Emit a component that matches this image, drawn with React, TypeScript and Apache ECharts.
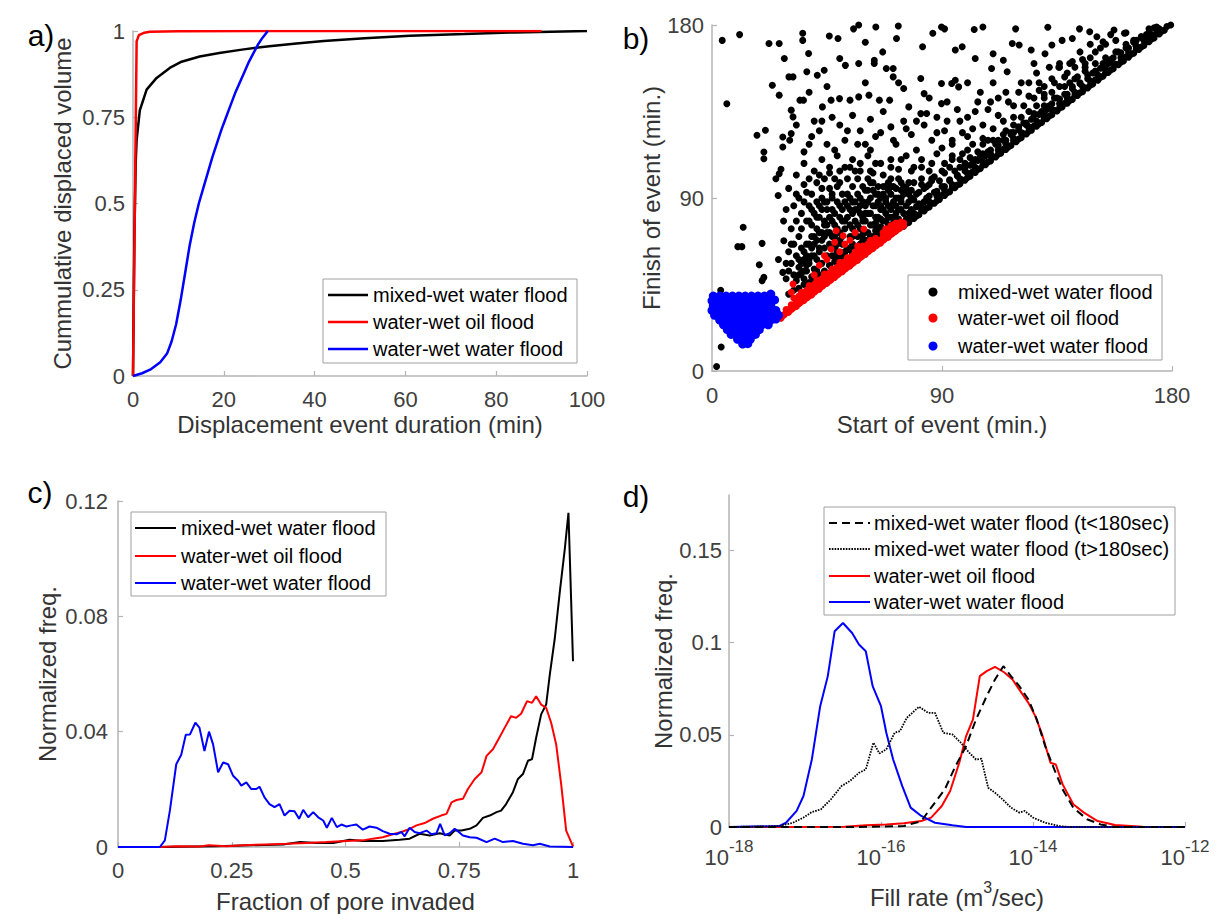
import React, { useEffect, useRef } from 'react';
import * as echarts from 'echarts';

const FONT = '"Liberation Sans", Arial, Helvetica, sans-serif';

// ---------- shared names ----------
const seriesNames = ['mixed-wet water flood', 'water-wet oil flood', 'water-wet water flood'];
const seriesNamesD = [
  'mixed-wet water flood (t<180sec)',
  'mixed-wet water flood (t>180sec)',
  'water-wet oil flood',
  'water-wet water flood',
];

// ---------- panel a: cumulative displaced volume vs event duration ----------
const aMixedWater = [[0,0],[0.3,0.4],[0.6,0.62],[0.8,0.684],[1.5,0.77],[3,0.83],[5.2,0.864],[8.1,0.893],[10.7,0.911],[14.7,0.926],[19,0.936],[24,0.946],[30,0.956],[36,0.964],[42,0.971],[51,0.979],[61,0.986],[73,0.991],[84,0.996],[92,0.998],[100,1.0]];
const aOilFlood = [[0,0],[0.8,0.97],[1.3,0.988],[2.5,0.995],[3.7,0.998],[10,0.9995],[30,1],[90,1]];
const aWaterFlood = [[0,0],[2,0.008],[4,0.02],[6,0.04],[7.5,0.065],[8.5,0.1],[9.5,0.15],[10.5,0.22],[11.5,0.3],[12.5,0.38],[13.5,0.445],[14.5,0.5],[15.5,0.545],[16.5,0.59],[17.5,0.635],[18.5,0.675],[19.5,0.715],[20.5,0.75],[21.5,0.785],[22.5,0.82],[23.5,0.85],[24.5,0.88],[25.5,0.91],[26.5,0.935],[27.5,0.96],[28.5,0.98],[29.7,1.0]];

// ---------- panel b: start vs finish of event (min.) ----------
const bMixedWater = [
  [1.8,2.3],[3.6,12.5],[3.4,42],[4,172],[5.8,139],[10.8,175],[10.1,64.7],[11.7,64.7],[12.2,74.8],[17.6,122.6],[18.5,55.3],[19.6,66.4],[19.6,47],[20.3,48.7],[20.9,125.2],[20.3,113.9],[20.3,110.4],[22.3,170.4],[23.6,148.7],[26.3,170.4],[26.3,143.5],[25.9,91.3],[26.3,102.6],[27.7,121.7],[27.7,116.5],[28.3,162.6],[28.1,67.8],[27.7,51.3],
  [30.1,153],[31.7,153],[31,135.7],[31.7,132.2],[30.4,120],[31,123.5],[34.4,140.9],[35.8,140.9],[35.5,175.7],[35.5,172],[37.1,155.7],[37.8,165.2],[41.2,153.9],[43.9,156.5],[45.9,174.3],[49.3,173],[50,162.6],[52.2,159],[55.4,178],[57.4,180],[57.4,160],[60,171],[63.5,160],[63.5,161.7],[64.1,179],[66.8,166],[68.2,157.4],[70.9,157.4],[70.9,153],[72.2,173],[72.9,179.5],[75,147],[81.7,152.2],[82.4,168.7],[83,144.3],[86.4,175.7],[89.8,179],[89.8,149.6],[91,178],[93.8,149.6],[95.2,151.3],[95.2,167],[96.5,147.8],[97.9,168.7],[102.6,177.7],[103,162.6],[106,179],[109.4,157.4],[110,165],[114,161.7],[115.5,155.7],[117.5,170.4],[118.8,178],[120.2,169.6],[124.9,167],[130.3,165],[131.4,178.8],[133,169.6],[135.7,158],[137,172],[141,173],[141,161],[143.8,178],[145,162],[147.8,176.5],[150.6,173.9],[153,171.3],[157.3,177.4],[161.4,175.7],
  [43.2,137.4],[46.6,140.9],[49.9,141.7],[54,140.9],[57.4,142.6],[61.4,143.5],[65.5,140.9],[69.5,140.9],[77,137.4],[81.7,133.9],[89.8,139.1],
  [33,128],[38,118],[40,130],[42,125],[45,118],[47,132],[50,128],[52,120],[55,133],[58,125],[60,118],[62,131],[64,122],[67,135],[70,127],[72,118],[75,130],[78,123],[80,115],[83,128],[86,120],[88,132],[91,125],[94,118],[97,130],[100,122],[103,135],[106,128],[109,140],[112,133],[115,145],[118,138],[121,150],[124,143],[127,155],[130,148],[133,152],[136,160],[139,155],[126,160],[105,145],[100,150],[110,150],[92,140],[85,142],[73,150],[60,150],[45,148],[38,145],
  [25,100],[27,105],[33,102],[36,108],[40,104],[43,110],[46,103],[49,112],[52,106],[55,110],[58,104],[61,112],[64,108],[67,102],[70,110],[73,105],[76,112],[79,106],[82,110],[85,104],[88,113],[91,108],[94,112],[97,106],[100,115],[103,110],[106,118],[109,113],[112,120],[115,125],[118,128],[121,132],[124,135],[127,138],[130,142],[133,145],[136,148],[140,150],[143,153],[146,156],[150,160],[154,163],[158,166],[162,170],[166,172],[170,175],[174,178],
  [29,84],[30,95],[33,92],[36,97],[38,86],[28,78],[31,66],[26,58],[29,56],
  [29,48],[30,52],[31,56],[32,50],[33,60],[34,54],[30,62],[32,66],[34,70],[31,74],[33,78],[35,82],[32,86],[34,90],[36,58],[35,64],
  [36,48],[37,52],[38,56],[39,60],[40,53],[41,58],[42,62],[37,66],[39,70],[41,74],[43,68],[38,78],[40,82],[42,86],[44,78],[36,88],[39,92],[43,95],[44,64],[45,72],[41,98],[38,100],[44,88],[40,66],[42,80],
  [46,55],[47,60],[48,64],[49,58],[50,68],[46,72],[48,76],[50,80],[52,74],[54,70],[47,84],[49,88],[51,92],[53,86],[55,82],[46,95],[50,98],[53,100],[52,62],[55,66],[48,70],[51,78],[54,90],[47,90],[55,96],
  [56,64],[57,70],[58,74],[59,68],[60,78],[61,72],[62,82],[63,76],[64,86],[56,84],[58,90],[60,94],[62,98],[64,92],[57,100],[59,80],[61,88],[63,70],[65,74],[65,96],
  [66,72],[67,78],[68,82],[69,76],[70,86],[71,80],[72,90],[73,84],[74,94],[66,90],[68,96],[70,100],[72,78],[74,88],[75,82],[66,84],
  [33,47],[35,51],[37,55],[39,49],[41,52],[43,56],[45,60],[47,53],[49,62],[51,66],[53,58],[55,61],[57,63],[59,71],[61,66],[63,69],[65,71],[67,73],[69,80],[71,77],[73,79],[34,58],[36,62],[38,66],[40,70],[42,72],[44,76],[46,80],[48,82],[50,86],[52,88],[54,84],[56,78],[58,82],[60,86],[62,90],[64,80],[66,79],[68,88],[70,92],[72,95],[74,98],[35,74],[37,78],[39,84],[41,88],[43,90],[45,84],[47,78],[49,74],[51,70],[53,80],[55,74],[57,92],[59,96],[61,100],[63,94],[65,88],[67,92],[69,94],[37,93],[42,102],[48,100],[56,104],[63,103],[70,96],
  [62,70],[64,73],[66,75],[68,78],[70,80],[72,82],[74,84],[60,68],[58,66],[56,64],[54,63],[52,62],[50,59],[48,57],[46,55],[44,52],[42,50],[40,48],[38,46],[36,45],[34,43],[32,42],[30,40],
  [35,56],[37,60],[39,64],[41,68],[43,72],[45,76],[47,70],[49,66],[51,60],[53,64],[55,70],[57,76],[59,78],[61,82],[63,86],[65,80],[67,84],[69,86],[71,88],[73,90],[75,92],[44,70],[46,66],[48,60],[50,72],[52,78],[54,76],[56,88],[58,86],[60,82],[62,76],[64,77],[66,86],[68,90],[70,84],[72,86],[74,90],[40,60],[42,64],[38,58],[36,52],[34,50],[39,76],[41,80],[43,84],[45,88],[47,92],[49,96],[51,84],[53,92],[55,88],[57,84],[59,88],[61,94],[63,98],[65,92],[67,96],[69,98],[71,96],[73,100],[75,96],[77,98],[78,94],[76,86],[77,92],[79,89],[81,93],[83,95],[85,97],[87,101],[89,99],[91,103],[93,106],[95,104],[97,110],[99,108],[101,111],[104,114],[106,113],[108,120],
  [44,100],[46,106],[50,104],[54,106],[58,108],[62,104],[66,108],[70,106],[74,110],[78,104],[82,106],[86,108],[90,116],[94,120],[98,124],[102,126],[36,114],[39,122],[43,130],[48,115],[53,125],[57,118],[62,115],[66,124],[71,120],[76,126],[80,130],[84,134],[88,124],[92,130],[96,136],[100,132],[104,140],[108,136],[112,142],[116,140],[120,145],[124,150],[128,146],[132,158],[140,160],[144,166],[148,163],[152,168],[110,120],[114,123],[118,124],[122,129],[126,134],[130,138],[134,142],[138,148],[142,152],[146,158],
  [76,76.8],[78,79.4],[80,80.7],[82,83.5],[84,84.8],[86,87.3],[88,88.6],[90,91.4],[92,92.7],[94,95.6],[96,96.8],[98,99.3],[100,100.7],[102,103.6],[104,104.8],[106,107.2],[108,108.7],[110,111.5],[112,112.8],[114,115.3],[116,116.6],[118,119.6],[120,120.7],[122,123.4],[124,124.8],[126,127.5],[128,128.6],[130,131.4],[132,132.7],[134,135.6],[136,136.8],[138,139.3],[140,140.7],[142,143.5],[144,144.8],[146,147.2],[148,148.7],[150,151.5],[152,152.8],[154,155.3],[156,156.6],[158,159.6],[160,160.7],[162,163.4],[164,164.8],[166,167.5],[168,168.6],[170,171.4],[172,172.7],[174,175.6],[176,176.8],[178,179.2],[179.5,180],
  [75,75.3],[77,77.3],[79,79.3],[81,81.3],[83,83.3],[85,85.3],[87,87.3],[89,89.3],[91,91.3],[93,93.3],[95,95.3],[97,97.3],[99,99.3],[101,101.3],[103,103.3],[105,105.3],[107,107.3],[109,109.3],[111,111.3],[113,113.3],[115,115.3],[117,117.3],[119,119.3],[121,121.3],[123,123.3],[125,125.3],[127,127.3],[129,129.3],[131,131.3],[133,133.3],[135,135.3],[137,137.3],[139,139.3],[141,141.3],[143,143.3],[145,145.3],[147,147.3],[149,149.3],[151,151.3],[153,153.3],[155,155.3],[157,157.3],[159,159.3],[161,161.3],[163,163.3],[165,165.3],[167,167.3],[169,169.3],[171,171.3],[173,173.3],[175,175.3],[177,177.3],
  [76,79],[79,82],[82,85],[85,88],[88,91],[91,94],[94,97],[97,100],[100,103],[103,106],[106,109],[109,112],[112,115],[115,118],[118,121],[121,124],[124,127],[127,130],[130,133],[133,136],[136,139],[139,142],[142,145],[145,148],[148,151],[151,154],[154,157],[157,160],[160,163],[163,166],[166,169],[169,172],[172,175],[175,178],
  [78,84],[81,87],[84,90],[87,93],[90,96],[93,99.5],[96,102],[99,106],[102,108],[105,111.5],[108,114],[111,118],[114,120],[117,124],[120,127],[123,129],[126,133],[129,135],[132,138],[135,142],[138,144],[141,148],[144,150],[147,154],[150,156],[153,160],[156,162],[159,166],[162,168],[165,172],[168,174],[171,178],[174,179],
  [77,82],[80,85.5],[83,88],[85,91],[88,93.5],[91,96],[93,99],[96,101.5],[99,104],[101,107],[104,109.5],[107,112],[109,115],[112,117.5],[115,120],[117,123],[120,125.5],[123,128],[125,131],[128,133.5],[131,136],[133,139],[136,141.5],[139,144],[141,147],[144,149.5],[147,152],[149,155],[152,157.5],[155,160],[157,163],[160,165.5],[163,168],[165,171],[168,173.5],[171,176],[173,178.5],[166,169],[170,173],
  [78,90],[82,97],[86,100],[90,104],[94,110],[98,113],[102,118],[106,121],[110,126],[114,130],[118,132],[122,138],[126,142],[130,144],[134,150],[138,153],[142,158],[146,160],[150,166],[154,170],[158,172],[162,176],[148,170],[156,175],[136,158],[128,150],
  [76,95],[79,98],[82,100],[77,88],[84,96],[86,99],[80,92],
];
const bOilFlood = [
  [27,27.5],[28.5,29.6],[30,30.6],[31.5,32.5],[33,33.6],[34.5,35.5],[36,36.7],[37.5,38.4],[39,39.6],[40.5,41.5],[42,42.6],[43.5,44.5],[45,45.7],[46.5,47.4],[48,48.6],[49.5,50.5],[51,51.6],[52.5,53.5],[54,54.7],[55.5,56.4],[57,57.6],[58.5,59.5],[60,60.6],[61.5,62.5],[63,63.7],[64.5,65.4],[66,66.6],[67.5,68.5],[69,69.6],[70.5,71.4],[72,72.8],[73.5,74.3],[75,75.6],
  [28,29],[29.5,30.5],[31,32],[32.5,33.5],[34,35],[35.5,36.5],[37,38],[38.5,39.5],[40,41],[41.5,42.5],[43,44],[44.5,45.5],[46,47],[47.5,48.5],[49,50],[50.5,51.5],[52,53],[53.5,54.5],[55,56],[56.5,57.5],[58,59],[59.5,60.5],[61,62],[62.5,63.5],[64,65],[65.5,66.5],[67,68],[68.5,69.5],[70,71],[71.5,72.5],[73,74],[74.5,75.5],
  [30,32],[32,34],[34,36],[36,38],[38,40],[40,42],[42,44],[44,46],[46,48],[48,50],[50,52],[52,54],[54,56],[56,58],[58,60],[60,62],[62,64],[64,66],[66,68],[68,70],[70,72],[72,74],
  [29,32],[31,34.5],[33,36],[35,38.5],[37,40],[39,42.5],[41,44],[43,46.5],[45,48],[47,50.5],[49,52],[51,54.5],[53,56],[55,58.5],[57,60],[59,62.5],[61,64],[63,66],[65,68],[67,70],[69,72],[71,74],[73,76],
  [34,39],[37,42],[40,45],[43,48],[46,51],[49,54],[52,57],[55,60],[58,63],[61,66],[64,69],[67,72],[36,40.5],[39,44],[42,47],[45,50],[48,53],[51,56],
  [32,38],[35,41],[38,44.5],[41,47],[44,50.5],[47,53],[50,56.5],[53,59],[56,62],[59,65],[62,68],[70,75.5],[72,77],[68,74],[74,77.5],
  [71,76],[73,75],[74,76],[72,75.5],[75,77],
  [31.7,45.2],[31,41],[40,50],[42,55],[45,58],[46.6,63.5],[48,67],[48.6,73],[51.3,70.4],[52,66],[54,68],[56,72],[59.4,73.9],[50,62],[44,60],[57,65],
];
const bWaterFlood = [
  [0.5,39],[3,39],[5.5,39],[8,39],[10.5,39],[13,39],[15.5,39],[18,39],[20.5,39],[23,40],
  [0,36.5],[2.5,36.5],[5,36.5],[7.5,36.5],[10,36.5],[12.5,36.5],[15,36.5],[17.5,36.5],[20,36.5],[22,36.5],[24.5,37],
  [0.5,34],[3,34],[5.5,34],[8,34],[10.5,34],[13,34],[15.5,34],[18,34],[20.5,34],[23,34],
  [0,31.5],[2.5,31.5],[5,31.5],[7.5,31.5],[10,31.5],[12.5,31.5],[15,31.5],[17.5,31.5],[20,31.5],[22.5,31.5],[25,31.5],
  [1,29],[3.5,29],[6,29],[8.5,29],[11,29],[13.5,29],[16,29],[18.5,29],[21,29],[23.5,29],[26,29],
  [3,26.5],[5.5,26.5],[8,26.5],[10.5,26.5],[13,26.5],[15.5,26.5],[18,26.5],[20.5,26.5],[23,26.5],[25,27],
  [4.5,24],[7,24],[9.5,24],[12,24],[14.5,24],[17,24],[19.5,24],[22,24],
  [6,21.5],[8.5,21.5],[11,21.5],[13.5,21.5],[16,21.5],[18.5,21.5],
  [7.5,19],[10,19],[12.5,19],[15,19],[17,19],
  [10,16.5],[12.5,16.5],[15,16.5],
  [12,14],[14,14.2],
];

// ---------- panel c: fraction of pore invaded ----------
const cMixedWater = [[0,0],[0.09,0],[0.216,0.0003],[0.289,0.0006],[0.363,0.0009],[0.4,0.0017],[0.436,0.0014],[0.473,0.0014],[0.509,0.0025],[0.538,0.0021],[0.582,0.0021],[0.619,0.0025],[0.641,0.0029],[0.663,0.0046],[0.685,0.004],[0.707,0.0048],[0.729,0.004],[0.74,0.0057],[0.755,0.0057],[0.773,0.0063],[0.788,0.0075],[0.802,0.0101],[0.817,0.0109],[0.832,0.0121],[0.842,0.0126],[0.853,0.0149],[0.868,0.019],[0.879,0.0236],[0.89,0.0253],[0.901,0.0299],[0.91,0.0305],[0.919,0.0379],[0.93,0.046],[0.941,0.0494],[0.949,0.0598],[0.96,0.0724],[0.971,0.0885],[0.982,0.1034],[0.99,0.1159],[1.0,0.0644]];
const cOilFlood = [[0,0],[0.09,0],[0.128,0.0003],[0.18,0.0002],[0.2,0.0006],[0.238,0.0003],[0.275,0.0006],[0.326,0.0009],[0.37,0.0011],[0.414,0.0014],[0.458,0.0017],[0.502,0.0021],[0.538,0.0023],[0.56,0.0029],[0.582,0.0034],[0.604,0.0044],[0.623,0.0052],[0.641,0.0063],[0.656,0.0075],[0.674,0.0083],[0.692,0.0098],[0.71,0.0109],[0.722,0.0115],[0.733,0.0155],[0.744,0.0163],[0.758,0.0167],[0.769,0.0201],[0.784,0.0236],[0.799,0.0259],[0.81,0.0316],[0.824,0.0339],[0.835,0.037],[0.85,0.0414],[0.864,0.0454],[0.875,0.0448],[0.886,0.0462],[0.899,0.0506],[0.91,0.05],[0.919,0.0523],[0.93,0.0494],[0.941,0.0483],[0.952,0.0431],[0.963,0.0356],[0.974,0.0218],[0.985,0.0057],[1.0,0.0002]];
const cWaterFlood = [[0,0],[0.092,0],[0.103,0.0023],[0.114,0.0126],[0.128,0.0287],[0.139,0.032],[0.149,0.0389],[0.158,0.039],[0.17,0.0431],[0.179,0.0414],[0.19,0.0333],[0.2,0.04],[0.209,0.0356],[0.22,0.0259],[0.231,0.0293],[0.242,0.0287],[0.253,0.0247],[0.264,0.023],[0.271,0.0213],[0.282,0.0224],[0.293,0.0201],[0.304,0.0201],[0.311,0.0209],[0.322,0.0172],[0.333,0.0149],[0.344,0.0138],[0.355,0.0149],[0.366,0.0109],[0.377,0.0126],[0.388,0.0124],[0.398,0.0098],[0.407,0.0129],[0.418,0.0103],[0.429,0.0121],[0.44,0.0103],[0.451,0.0092],[0.459,0.0067],[0.47,0.0101],[0.481,0.0069],[0.491,0.0078],[0.502,0.0071],[0.513,0.0075],[0.524,0.0078],[0.538,0.006],[0.553,0.0071],[0.568,0.0067],[0.582,0.0055],[0.597,0.0046],[0.612,0.0044],[0.623,0.0052],[0.63,0.0037],[0.641,0.0067],[0.652,0.0052],[0.663,0.0048],[0.678,0.0057],[0.689,0.0044],[0.7,0.0048],[0.708,0.008],[0.718,0.004],[0.729,0.0048],[0.74,0.0063],[0.747,0.0055],[0.758,0.004],[0.773,0.0034],[0.788,0.0032],[0.81,0.0017],[0.828,0.0029],[0.846,0.0017],[0.868,0.0021],[0.89,0.0011],[0.912,0.0006],[0.927,0.0011],[0.949,0.0002],[1.0,0]];

// ---------- panel d: fill rate, x = log10(m^3/sec) ----------
const dMixedEarly = [[-18,0],[-16.29,0],[-15.7,0.0005],[-15.47,0.0032],[-15.34,0.0105],[-15.16,0.0204],[-15.02,0.033],[-14.88,0.0439],[-14.75,0.0583],[-14.61,0.0709],[-14.5,0.08],[-14.39,0.0872],[-14.29,0.0818],[-14.18,0.0764],[-14.06,0.0691],[-13.95,0.0583],[-13.84,0.0439],[-13.72,0.0312],[-13.61,0.0204],[-13.47,0.0105],[-13.29,0.0042],[-13.11,0.0014],[-12.92,0],[-12,0]];
const dMixedLate = [[-18,0],[-17.34,0.0005],[-17.16,0.0023],[-17.02,0.0051],[-16.91,0.0081],[-16.79,0.0096],[-16.66,0.015],[-16.52,0.0222],[-16.41,0.0249],[-16.29,0.0294],[-16.2,0.0312],[-16.1,0.0457],[-16.02,0.0399],[-15.93,0.0421],[-15.82,0.0511],[-15.75,0.052],[-15.66,0.0592],[-15.5,0.0652],[-15.38,0.0619],[-15.29,0.0619],[-15.18,0.0511],[-15.06,0.0502],[-14.95,0.0457],[-14.84,0.0403],[-14.75,0.0366],[-14.68,0.037],[-14.59,0.0213],[-14.5,0.0186],[-14.4,0.015],[-14.29,0.0105],[-14.18,0.0078],[-14.11,0.0087],[-14.0,0.0051],[-13.84,0.0023],[-13.65,0.0005],[-13.52,0],[-12,0]];
const dOilFlood = [[-18,0],[-17.29,0],[-16.48,0.0002],[-16.2,0.0009],[-15.93,0.0014],[-15.7,0.002],[-15.47,0.0032],[-15.34,0.0051],[-15.2,0.0114],[-15.09,0.0195],[-14.97,0.0348],[-14.88,0.0493],[-14.79,0.0583],[-14.7,0.0818],[-14.61,0.0845],[-14.5,0.0868],[-14.38,0.0839],[-14.27,0.08],[-14.18,0.0745],[-14.06,0.0673],[-13.97,0.0601],[-13.88,0.0502],[-13.77,0.0348],[-13.7,0.0339],[-13.61,0.0231],[-13.47,0.0123],[-13.33,0.0078],[-13.15,0.0032],[-12.92,0.0011],[-12.56,0.0002],[-12,0]];
const dWaterFlood = [[-18,0],[-17.34,0.0005],[-17.25,0.0023],[-17.11,0.0087],[-17.02,0.0168],[-16.91,0.0366],[-16.8,0.0655],[-16.7,0.0818],[-16.61,0.1061],[-16.5,0.1106],[-16.38,0.1052],[-16.29,0.0989],[-16.2,0.0953],[-16.11,0.0764],[-16.0,0.0655],[-15.93,0.0511],[-15.84,0.0366],[-15.72,0.0222],[-15.61,0.0105],[-15.47,0.006],[-15.29,0.0023],[-15.06,0.0009],[-14.88,0],[-12,0]];

const BLACK = '#000000';
const RED = '#ff0000';
const BLUE = '#0000ff';
const AXIS_GREY = '#b4b4b4';
const TICK_TEXT = '#404040';
const TITLE_TEXT = '#333333';

function makeAxis(extra: any) {
  return {
    type: 'value',
    nameLocation: 'middle',
    axisLine: { show: true, lineStyle: { color: AXIS_GREY, width: 1.5 } },
    axisTick: { show: true, inside: true, length: 5, lineStyle: { color: AXIS_GREY, width: 1.2 } },
    splitLine: { show: false },
    nameTextStyle: { color: TITLE_TEXT, fontSize: 24, fontFamily: FONT },
    ...extra,
    axisLabel: { color: TICK_TEXT, fontSize: 22, fontFamily: FONT, ...(extra.axisLabel || {}) },
  };
}

function legendGraphic(box: number[], rows: number[], lineX: number[], textX: number, entries: any[]) {
  const children: any[] = [
    { type: 'rect', shape: { x: box[0], y: box[1], width: box[2], height: box[3] }, style: { fill: '#ffffff', stroke: '#a0a0a0', lineWidth: 1 } },
  ];
  entries.forEach((e, i) => {
    const cy = rows[i];
    if (e.kind === 'dot') {
      children.push({ type: 'circle', shape: { cx: (lineX[0] + lineX[1]) / 2, cy, r: 4.5 }, style: { fill: e.color } });
    } else {
      children.push({ type: 'line', shape: { x1: lineX[0], y1: cy, x2: lineX[1], y2: cy }, style: { stroke: e.color, lineWidth: e.width, lineDash: e.dash || null } });
    }
    children.push({ type: 'text', style: { text: e.name, x: textX, y: cy, fill: '#000000', font: `20px ${FONT}`, textAlign: 'left', textVerticalAlign: 'middle', verticalAlign: 'middle' } });
  });
  return { type: 'group', z: 100, children };
}

export default function App() {
  const ref = useRef<HTMLDivElement>(null);
  useEffect(() => {
    const chart = echarts.init(ref.current!, null, { renderer: 'svg' });
    const lineSeries = (name: string, data: any, color: string, axis: number, width: number, type: any = 'solid') => ({
      type: 'line', name, data, xAxisIndex: axis, yAxisIndex: axis, symbol: 'none', showSymbol: false,
      lineStyle: { color, width, type }, itemStyle: { color }, z: 2,
    });
    const scatterSeries = (name: string, data: any, color: string, size: number) => ({
      type: 'scatter', name, data, xAxisIndex: 1, yAxisIndex: 1, symbol: 'circle', symbolSize: size,
      itemStyle: { color, opacity: 1 }, z: 2,
    });
    const option: any = {
      animation: false,
      backgroundColor: '#ffffff',
      textStyle: { fontFamily: FONT },
      grid: [
        { left: 133, top: 31, width: 454, height: 345 },
        { left: 712, top: 25, width: 460, height: 346 },
        { left: 118, top: 501, width: 455, height: 346 },
        { left: 729, top: 495, width: 456, height: 332 },
      ],
      xAxis: [
        makeAxis({ gridIndex: 0, min: 0, max: 100, interval: 20, name: 'Displacement event duration (min)', nameGap: 36, axisLabel: { margin: 12 } }),
        makeAxis({ gridIndex: 1, min: 0, max: 180, interval: 90, name: 'Start of event (min.)', nameGap: 41, axisLabel: { margin: 13 } }),
        makeAxis({ gridIndex: 2, min: 0, max: 1, interval: 0.25, name: 'Fraction of pore invaded', nameGap: 42, axisLabel: { margin: 12 } }),
        makeAxis({
          gridIndex: 3, min: -18, max: -12, interval: 2,
          name: '{t|Fill rate (m}{u|3}{t|/sec)}', nameGap: 52,
          nameTextStyle: {
            color: TITLE_TEXT, fontFamily: FONT,
            rich: {
              t: { fontSize: 24, lineHeight: 30, verticalAlign: 'bottom', color: TITLE_TEXT, fontFamily: FONT },
              u: { fontSize: 16, lineHeight: 16, verticalAlign: 'top', color: TITLE_TEXT, fontFamily: FONT },
            },
          },
          axisLabel: {
            margin: 11,
            formatter: (v: number) => '{b|10}{s|' + v + '}',
            rich: {
              b: { fontSize: 22, lineHeight: 30, verticalAlign: 'bottom', color: TICK_TEXT, fontFamily: FONT },
              s: { fontSize: 17, lineHeight: 17, verticalAlign: 'top', color: TICK_TEXT, fontFamily: FONT },
            },
          },
        }),
      ],
      yAxis: [
        makeAxis({ gridIndex: 0, min: 0, max: 1, interval: 0.25, name: 'Cummulative displaced volume', nameGap: 59, axisLabel: { margin: 8 } }),
        makeAxis({ gridIndex: 1, min: 0, max: 180, interval: 90, name: 'Finish of event (min.)', nameGap: 45, axisLabel: { margin: 8 } }),
        makeAxis({ gridIndex: 2, min: 0, max: 0.12, interval: 0.04, name: 'Normalized freq.', nameGap: 59, axisLabel: { margin: 10 } }),
        makeAxis({ gridIndex: 3, min: 0, max: 0.18, interval: 0.05, name: 'Normalized freq.', nameGap: 52, axisLabel: { margin: 7, showMaxLabel: false } }),
      ],
      series: [
        lineSeries(seriesNames[0], aMixedWater, BLACK, 0, 2.5),
        lineSeries(seriesNames[1], aOilFlood, RED, 0, 2.5),
        lineSeries(seriesNames[2], aWaterFlood, BLUE, 0, 2.5),
        scatterSeries(seriesNames[0], bMixedWater, BLACK, 7),
        scatterSeries(seriesNames[1], bOilFlood, RED, 7),
        scatterSeries(seriesNames[2], bWaterFlood, BLUE, 9),
        lineSeries(seriesNames[0], cMixedWater, BLACK, 2, 2),
        lineSeries(seriesNames[1], cOilFlood, RED, 2, 2),
        lineSeries(seriesNames[2], cWaterFlood, BLUE, 2, 2),
        lineSeries(seriesNamesD[2], dOilFlood, RED, 3, 2),
        lineSeries(seriesNamesD[3], dWaterFlood, BLUE, 3, 2),
        lineSeries(seriesNamesD[1], dMixedLate, '#000000', 3, 1.8, [1.6, 1.2]),
        lineSeries(seriesNamesD[0], dMixedEarly, BLACK, 3, 2, [8, 5]),
      ],
      graphic: [
        { type: 'text', z: 100, style: { text: 'a)', x: 41, y: 35, fill: '#000', font: `30px ${FONT}`, textAlign: 'center', textVerticalAlign: 'middle', verticalAlign: 'middle' } },
        { type: 'text', z: 100, style: { text: 'b)', x: 636, y: 38, fill: '#000', font: `30px ${FONT}`, textAlign: 'center', textVerticalAlign: 'middle', verticalAlign: 'middle' } },
        { type: 'text', z: 100, style: { text: 'c)', x: 40, y: 492, fill: '#000', font: `30px ${FONT}`, textAlign: 'center', textVerticalAlign: 'middle', verticalAlign: 'middle' } },
        { type: 'text', z: 100, style: { text: 'd)', x: 636, y: 496, fill: '#000', font: `30px ${FONT}`, textAlign: 'center', textVerticalAlign: 'middle', verticalAlign: 'middle' } },
        legendGraphic([323, 279, 254, 84], [295, 322, 349], [328, 368], 373, [
          { name: seriesNames[0], color: BLACK, width: 2.5 },
          { name: seriesNames[1], color: RED, width: 2.5 },
          { name: seriesNames[2], color: BLUE, width: 2.5 },
        ]),
        legendGraphic([908, 275, 254, 85], [292, 318, 346], [913, 953], 958, [
          { name: seriesNames[0], color: BLACK, kind: 'dot' },
          { name: seriesNames[1], color: RED, kind: 'dot' },
          { name: seriesNames[2], color: BLUE, kind: 'dot' },
        ]),
        legendGraphic([131, 512, 255, 84], [528, 556, 583], [135, 176], 181, [
          { name: seriesNames[0], color: BLACK, width: 2 },
          { name: seriesNames[1], color: RED, width: 2 },
          { name: seriesNames[2], color: BLUE, width: 2 },
        ]),
        legendGraphic([824, 507, 351, 108], [523, 549, 576, 602], [829, 870], 874, [
          { name: seriesNamesD[0], color: BLACK, width: 2, dash: [8, 5] },
          { name: seriesNamesD[1], color: '#000000', width: 1.8, dash: [1.6, 1.2] },
          { name: seriesNamesD[2], color: RED, width: 2 },
          { name: seriesNamesD[3], color: BLUE, width: 2 },
        ]),
      ],
    };
    chart.setOption(option);
    return () => chart.dispose();
  }, []);
  return <div ref={ref} style={{ position: 'absolute', left: 0, top: 0, width: 1221, height: 914, background: '#ffffff' }} />;
}
